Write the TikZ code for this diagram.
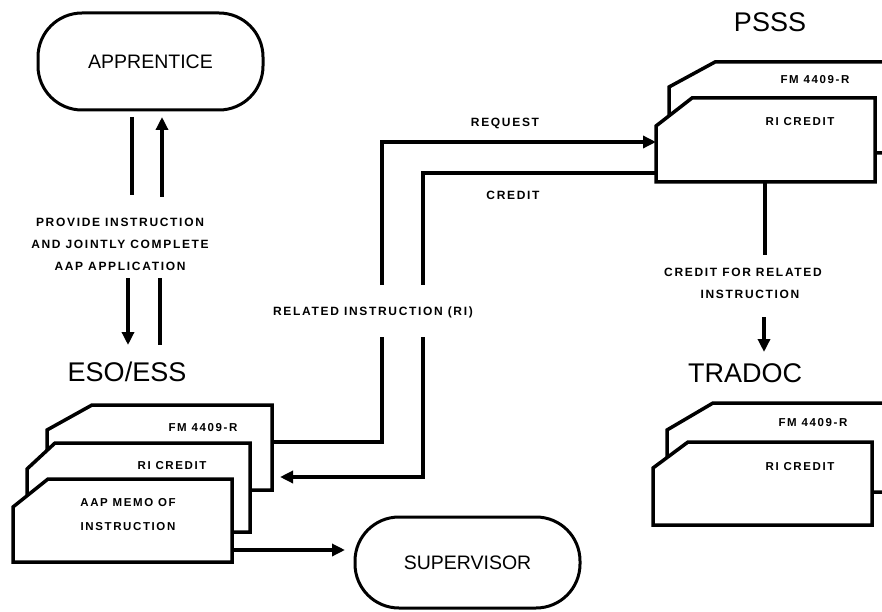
\documentclass[tikz,border=0pt]{standalone}
\usepackage{fontspec}
\setmainfont{Liberation Sans}
\newfontfamily\lblfont[LetterSpace=14]{Liberation Sans}
\usetikzlibrary{arrows.meta}
\tikzset{
  flow/.style={line width=4.5pt, line cap=butt, line join=miter},
  flowarrow/.style={flow, -{Triangle[length=13pt,width=12pt]}},
  docshape/.style={draw, line width=3.5pt, fill=white, line join=miter},
  oval/.style={draw, line width=3pt, rounded corners=44pt, inner sep=0pt,
    font=\fontsize{19.5}{20}\selectfont},
  title/.style={font=\fontsize{27}{27}\selectfont},
  lbl/.style={font=\lblfont\bfseries\fontsize{12}{22}\selectfont, align=center},
  doclbl/.style={font=\lblfont\bfseries\fontsize{11.5}{24}\selectfont, align=center},
}
\begin{document}
\begin{tikzpicture}[x=1pt,y=-1pt]
\useasboundingbox (0,0) rectangle (882,612);
\clip (0,0) rectangle (882,612);

% ---------- participants ----------
\node[oval, minimum width=225pt, minimum height=97pt] (appr) at (150.5,61.5) {APPRENTICE};
\node[oval, minimum width=225pt, minimum height=91pt] (sup) at (467.5,562.5) {SUPERVISOR};

\node[lbl] (provide) at (120,244) {PROVIDE INSTRUCTION\\AND JOINTLY COMPLETE\\AAP APPLICATION};
\node[title] (eso) at (127,372) {ESO/ESS};
\node[title] (psss) at (770,22) {PSSS};
\node[title] (tradoc) at (745,373) {TRADOC};

% ---------- ESO/ESS document stack ----------
\draw[docshape] (92,405) -- (272,405) -- (272,490) -- (47,490) -- (47,430) -- cycle;
\node[doclbl] (esoFM) at (203,428) {FM 4409-R};
\draw[docshape] (55,443) -- (250,443) -- (250,532) -- (27,532) -- (27,469) -- cycle;
\node[doclbl] (esoRI) at (172,466) {RI CREDIT};
\draw[docshape] (48,479) -- (232,479) -- (232,562) -- (13,562) -- (13,507) -- cycle;
\node[doclbl] (memo) at (128,515) {AAP MEMO OF\\INSTRUCTION};

% ---------- PSSS document stack ----------
\draw[docshape] (715,62) -- (900,62) -- (900,153) -- (669,153) -- (669,87) -- cycle;
\node[doclbl] (psssFM) at (815,80) {FM 4409-R};
\draw[docshape] (692,98) -- (875,98) -- (875,182) -- (656,182) -- (656,126) -- cycle;
\node[doclbl] (psssRI) at (800,122) {RI CREDIT};

% ---------- TRADOC document stack ----------
\draw[docshape] (713,403) -- (900,403) -- (900,492) -- (667,492) -- (667,430) -- cycle;
\node[doclbl] (tradFM) at (813,423) {FM 4409-R};
\draw[docshape] (688,442) -- (872,442) -- (872,525) -- (653,525) -- (653,468) -- cycle;
\node[doclbl] (tradRI) at (800,467) {RI CREDIT};

% ---------- connector anchors ----------
\coordinate (apprL) at (132,117);   \coordinate (provL) at (132,195);
\coordinate (provR) at (162,197);   \coordinate (apprR) at (162,117);
\coordinate (provL2) at (128,278);  \coordinate (esoL) at (128,345);
\coordinate (provR2) at (160,278);  \coordinate (esoR) at (160,345);

\coordinate (esoOut) at (272,442);  \coordinate (reqLow) at (382,337);
\coordinate (reqUp) at (382,285);   \coordinate (psssIn) at (656,142);
\coordinate (psssOut) at (656,173); \coordinate (crUp) at (423,285);
\coordinate (crLow) at (423,337);   \coordinate (esoIn) at (280,477);

\coordinate (psssDown) at (765,182); \coordinate (cfrTop) at (765,255);
\coordinate (cfrBot) at (764,317);   \coordinate (tradIn) at (764,352);
\coordinate (memoOut) at (232,550);  \coordinate (supIn) at (345,550);

% ---------- apprentice <-> ESO/ESS ----------
\draw[flow] (apprL) -- (provL);
\draw[flowarrow] (provR) -- (apprR);
\draw[flowarrow] (provL2) -- (esoL);
\draw[flow] (provR2) -- (esoR);

% ---------- related instruction request / credit ----------
\draw[flow] (esoOut) -- (esoOut -| reqLow) -- (reqLow);
\draw[flowarrow] (reqUp) -- (reqUp |- psssIn) -- (psssIn);
\draw[flow] (psssOut) -- (psssOut -| crUp) -- (crUp);
\draw[flowarrow] (crLow) -- (crLow |- esoIn) -- (esoIn);

\node[lbl] (req) at (505,123) {REQUEST};
\node[lbl] (cr) at (513,195) {CREDIT};
\node[lbl] (ri) at (373,312) {RELATED INSTRUCTION (RI)};

% ---------- PSSS -> TRADOC ----------
\draw[flow] (psssDown) -- (cfrTop);
\node[lbl] (cfr) at (743,283) {CREDIT FOR RELATED\\\hspace*{14pt}INSTRUCTION};
\draw[flowarrow] (cfrBot) -- (tradIn);

% ---------- outgoing ----------
\draw[flowarrow] (memoOut) -- (supIn);
\end{tikzpicture}
\end{document}
